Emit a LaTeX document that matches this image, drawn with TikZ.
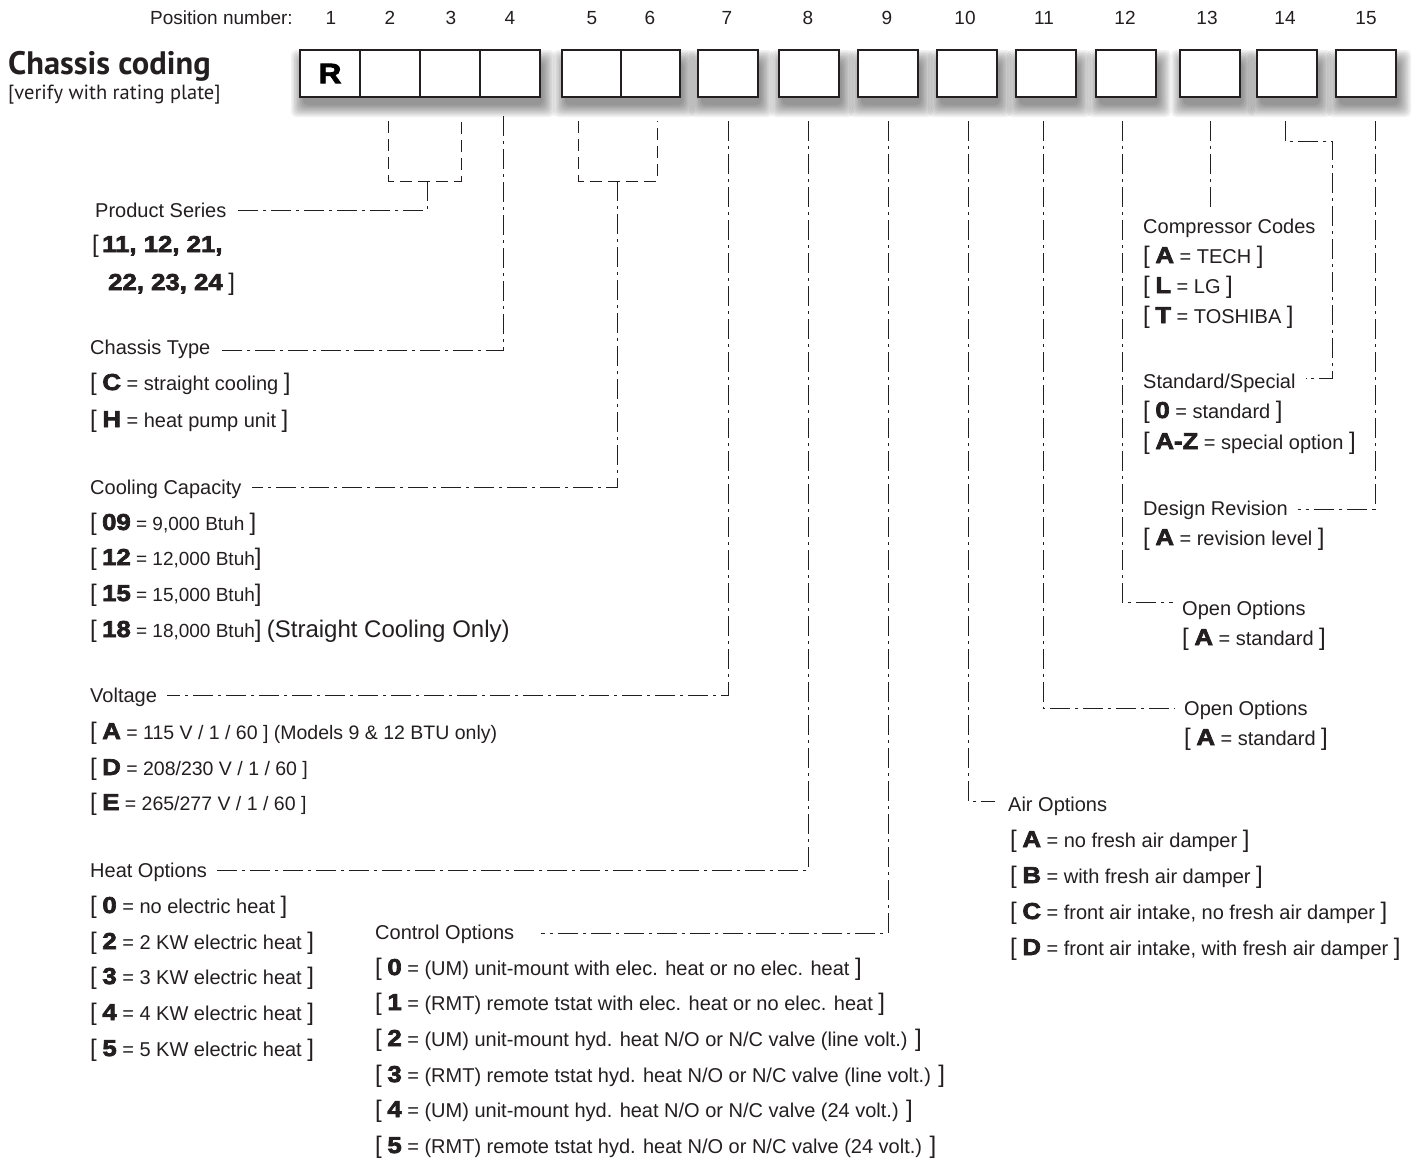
\documentclass[tikz,border=0pt]{standalone}
\usepackage{fontspec}
\setmainfont{Liberation Sans}
\newfontfamily\titlefont{PT Sans}
\newfontfamily\codefont[FakeBold=3,FakeStretch=1.12]{Liberation Sans Bold}
\definecolor{ink}{HTML}{231F20}
\newcommand\lb{{\fontsize{24}{24}\selectfont[}}
\newcommand\rb{{\fontsize{24}{24}\selectfont]}}
\newcommand\cd[1]{{\codefont\fontsize{23}{24}\selectfont #1}}
\tikzset{
  txt/.style={anchor=base west, inner sep=0pt, text=ink, font=\fontsize{20}{24}\selectfont},
  num/.style={anchor=base, inner sep=0pt, text=ink, font=\fontsize{19}{22}\selectfont},
  conn/.style={draw=ink, line width=1pt, dash pattern=on 20pt off 5pt on 3pt off 5pt},
  dsh/.style={draw=ink, line width=1pt, dash pattern=on 12pt off 6pt},
  cbox/.style={draw=ink, fill=white, line width=1.8pt, minimum width=60pt, minimum height=47pt, inner sep=0pt, anchor=north west, outer sep=0pt},
}
\begin{document}
\begin{tikzpicture}[x=1pt,y=-1pt]
\useasboundingbox (0,0) rectangle (1413,1160);
\fill[white] (0,0) rectangle (1413,1160);

% shadows
\foreach \xa/\xb in {300/540,562/680,698/758,779/839,858/918,937/997,1016/1076,1096/1156,1180/1240,1257/1317,1336/1396}{
  \foreach \r in {0,1.5,...,12}{
    \fill[black,opacity=0.055,rounded corners=5pt] (\xa+3-\r,62-\r) rectangle (\xb+3+\r,105+\r);
  }
}

% boxes
\node[cbox] (b1) at (300,50) {{\codefont\fontsize{28}{28}\selectfont R}};
\node[cbox] (b2) at (360,50) {};
\node[cbox] (b3) at (420,50) {};
\node[cbox] (b4) at (480,50) {};
\node[cbox, minimum width=59pt] (b5) at (562,50) {};
\node[cbox, minimum width=59pt] (b6) at (621,50) {};
\node[cbox] (b7) at (698,50) {};
\node[cbox] (b8) at (779,50) {};
\node[cbox] (b9) at (858,50) {};
\node[cbox] (b10) at (937,50) {};
\node[cbox] (b11) at (1016,50) {};
\node[cbox] (b12) at (1096,50) {};
\node[cbox] (b13) at (1180,50) {};
\node[cbox] (b14) at (1257,50) {};
\node[cbox] (b15) at (1336,50) {};

% position numbers
\node[num, anchor=base east] (pn) at (293,24) {Position number:};
\foreach \n/\x in {1/331,2/390,3/451,4/510,5/592,6/650,7/727,8/808,9/887,10/965,11/1044,12/1125,13/1207,14/1285,15/1366}{
  \node[num] (n\n) at (\x,24) {\n};
}

% title
\node[anchor=base west, inner sep=0pt, text=ink, font=\titlefont\bfseries\fontsize{32.5}{34}\selectfont] (title) at (8,74) {Chassis coding};
\node[anchor=base west, inner sep=0pt, text=ink, font=\titlefont\fontsize{20.5}{22}\selectfont] (verify) at (8,99) {[verify with rating plate]};

% left column texts
\node[txt] (ps) at (95,217) {Product Series};
\node[txt] (ps1) at (92,252) {\lb\,\cd{11, 12, 21,}};
\node[txt] (ps2) at (108,290) {\cd{22, 23, 24}\ \rb};

\node[txt] (ct) at (90,354) {Chassis Type};
\node[txt] (ct1) at (90,390) {\lb\ \cd{C} = straight cooling \rb};
\node[txt] (ct2) at (90,427) {\lb\ \cd{H} = heat pump unit \rb};

\node[txt] (cc) at (90,494) {Cooling Capacity};
\node[txt, font=\fontsize{19}{22}\selectfont] (cc1) at (90,530) {\lb\ \cd{09} = 9,000 Btuh \rb};
\node[txt, font=\fontsize{19}{22}\selectfont] (cc2) at (90,565) {\lb\ \cd{12} = 12,000 Btuh\rb};
\node[txt, font=\fontsize{19}{22}\selectfont] (cc3) at (90,601) {\lb\ \cd{15} = 15,000 Btuh\rb};
\node[txt, font=\fontsize{19}{22}\selectfont] (cc4) at (90,637) {\lb\ \cd{18} = 18,000 Btuh\rb\ {\fontsize{24}{26}\selectfont(Straight Cooling Only)}};

\node[txt] (vo) at (90,702) {Voltage};
\node[txt, font=\fontsize{19.5}{22}\selectfont] (vo1) at (90,739) {\lb\ \cd{A} = 115 V / 1 / 60 ] (Models 9 \& 12 BTU only)};
\node[txt, font=\fontsize{19.5}{22}\selectfont] (vo2) at (90,775) {\lb\ \cd{D} = 208/230 V / 1 / 60 ]};
\node[txt, font=\fontsize{19.5}{22}\selectfont] (vo3) at (90,810) {\lb\ \cd{E} = 265/277 V / 1 / 60 ]};

\node[txt] (ho) at (90,877) {Heat Options};
\node[txt] (ho1) at (90,913) {\lb\ \cd{0} = no electric heat \rb};
\node[txt] (ho2) at (90,949) {\lb\ \cd{2} = 2 KW electric heat \rb};
\node[txt] (ho3) at (90,984) {\lb\ \cd{3} = 3 KW electric heat \rb};
\node[txt] (ho4) at (90,1020) {\lb\ \cd{4} = 4 KW electric heat \rb};
\node[txt] (ho5) at (90,1056) {\lb\ \cd{5} = 5 KW electric heat \rb};

\node[txt] (co) at (375,939) {Control Options};
\node[txt] (co0) at (375,975) {\lb\ \cd{0} = (UM) unit-mount with elec. heat or no elec. heat \rb};
\node[txt] (co1) at (375,1010) {\lb\ \cd{1} = (RMT) remote tstat with elec. heat or no elec. heat \rb};
\node[txt] (co2) at (375,1046) {\lb\ \cd{2} = (UM) unit-mount hyd. heat N/O or N/C valve (line volt.) \rb};
\node[txt] (co3) at (375,1082) {\lb\ \cd{3} = (RMT) remote tstat hyd. heat N/O or N/C valve (line volt.) \rb};
\node[txt] (co4) at (375,1117) {\lb\ \cd{4} = (UM) unit-mount hyd. heat N/O or N/C valve (24 volt.) \rb};
\node[txt] (co5) at (375,1153) {\lb\ \cd{5} = (RMT) remote tstat hyd. heat N/O or N/C valve (24 volt.) \rb};

% right column texts
\node[txt] (cmp) at (1143,233) {Compressor Codes};
\node[txt] (cmp1) at (1143,263) {\lb\ \cd{A} = TECH \rb};
\node[txt] (cmp2) at (1143,293) {\lb\ \cd{L} = LG \rb};
\node[txt] (cmp3) at (1143,323) {\lb\ \cd{T} = TOSHIBA \rb};

\node[txt] (ss) at (1143,388) {Standard/Special};
\node[txt] (ss1) at (1143,418) {\lb\ \cd{0} = standard \rb};
\node[txt] (ss2) at (1143,449) {\lb\ \cd{A-Z} = special option \rb};

\node[txt] (dr) at (1143,515) {Design Revision};
\node[txt] (dr1) at (1143,545) {\lb\ \cd{A} = revision level \rb};

\node[txt] (oa) at (1182,615) {Open Options};
\node[txt] (oa1) at (1182,645) {\lb\ \cd{A} = standard \rb};

\node[txt] (ob) at (1184,715) {Open Options};
\node[txt] (ob1) at (1184,745) {\lb\ \cd{A} = standard \rb};

\node[txt] (ao) at (1008,811) {Air Options};
\node[txt] (ao1) at (1010,847) {\lb\ \cd{A} = no fresh air damper \rb};
\node[txt] (ao2) at (1010,883) {\lb\ \cd{B} = with fresh air damper \rb};
\node[txt] (ao3) at (1010,919) {\lb\ \cd{C} = front air intake, no fresh air damper \rb};
\node[txt] (ao4) at (1010,955) {\lb\ \cd{D} = front air intake, with fresh air damper \rb};

% connector coordinates
\coordinate (t2) at (388,121); \coordinate (t3) at (461,121);
\coordinate (k2) at (388,181); \coordinate (k3) at (461,181);
\coordinate (m23) at (427,181); \coordinate (e23) at (427,210);
\coordinate (t4) at (503,116); \coordinate (e4) at (503,350);
\coordinate (t5) at (578,121); \coordinate (t6) at (657,121);
\coordinate (k5) at (578,181); \coordinate (k6) at (657,181);
\coordinate (m56) at (617,181); \coordinate (e56) at (617,487);
\coordinate (t7) at (728,121); \coordinate (e7) at (728,695);
\coordinate (t8) at (808,121); \coordinate (e8) at (808,870);
\coordinate (t9) at (888,121); \coordinate (e9) at (888,933);
\coordinate (t10) at (968,121); \coordinate (e10) at (968,801);
\coordinate (t11) at (1043,121); \coordinate (e11) at (1043,708);
\coordinate (t12) at (1122,121); \coordinate (e12) at (1122,602);
\coordinate (t13) at (1210,121); \coordinate (e13) at (1210,207);
\coordinate (t14) at (1285,121); \coordinate (k14) at (1285,141);
\coordinate (j14) at (1332,141); \coordinate (e14) at (1332,378);
\coordinate (t15) at (1375,121); \coordinate (e15) at (1375,509);

% connectors
\draw[dsh] (t2) -- (k2) -- (k3) -- (t3);
\draw[conn] (m23) -- (e23) -- ([xshift=10pt]ps.east |- e23);
\draw[conn] (t4) -- (e4) -- ([xshift=10pt]ct.east |- e4);
\draw[dsh] (t5) -- (k5) -- (k6) -- (t6);
\draw[conn] (m56) -- (e56) -- ([xshift=10pt]cc.east |- e56);
\draw[conn] (t7) -- (e7) -- ([xshift=10pt]vo.east |- e7);
\draw[conn] (t8) -- (e8) -- ([xshift=10pt]ho.east |- e8);
\draw[conn] (t9) -- (e9) -- ([xshift=27pt]co.east |- e9);
\draw[conn] (t10) -- (e10) -- ([xshift=-13pt]ao.west |- e10);
\draw[conn] (t11) -- (e11) -- ([xshift=-9pt]ob.west |- e11);
\draw[conn] (t12) -- (e12) -- ([xshift=-9pt]oa.west |- e12);
\draw[conn] (t13) -- (e13);
\draw[conn] (t14) -- (k14) -- (j14) -- (e14) -- ([xshift=10pt]ss.east |- e14);
\draw[conn] (t15) -- (e15) -- ([xshift=10pt]dr.east |- e15);
\end{tikzpicture}
\end{document}
